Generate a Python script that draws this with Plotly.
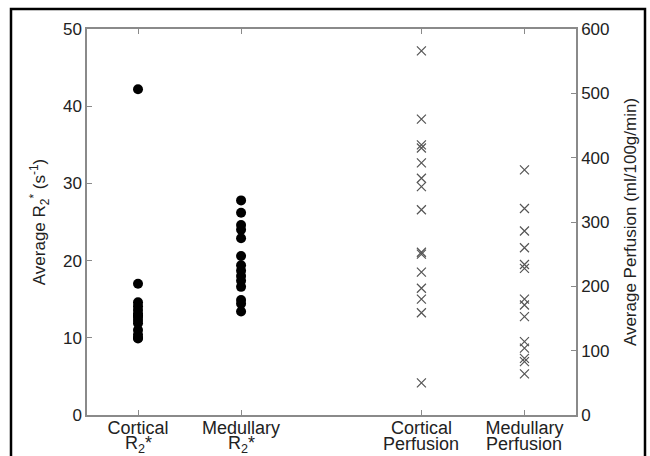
import plotly.graph_objects as go

# ---- data ----
cat_line1 = ["Cortical", "Medullary", "Cortical", "Medullary"]
cat_line2 = ["R<sub>2</sub>*", "R<sub>2</sub>*", "Perfusion", "Perfusion"]
cat_positions = [1, 2, 3.75, 4.75]

cortical_r2 = [42.2, 17.0, 14.6, 14.1, 13.6, 13.1, 12.9, 12.7, 12.3, 11.9, 11.0, 10.4, 10.0, 9.9]
medullary_r2 = [27.8, 26.2, 24.6, 24.0, 22.9, 20.6, 19.4, 18.7, 18.0, 17.4, 16.6, 14.9, 14.4, 13.4]
cortical_perf = [566, 460, 420, 415, 392, 368, 355, 319, 253, 250, 222, 197, 180, 159, 50]
medullary_perf = [381, 321, 286, 260, 234, 228, 180, 171, 153, 114, 104, 88, 83, 64]

left_ticks = [0, 10, 20, 30, 40, 50]
right_ticks = [0, 100, 200, 300, 400, 500, 600]

FONT = "Liberation Sans, Arial, sans-serif"
AX = "#8a8a8a"
TXT = "#222222"
FS = 17

fig = go.Figure()
dot = dict(symbol="circle", size=10, color="black", line=dict(width=0))
cross = dict(symbol="x-thin", size=9, color="#555555", line=dict(width=1.2, color="#555555"))

fig.add_trace(go.Scatter(x=[cat_positions[0]] * len(cortical_r2), y=cortical_r2,
                         mode="markers", marker=dot, yaxis="y", showlegend=False))
fig.add_trace(go.Scatter(x=[cat_positions[1]] * len(medullary_r2), y=medullary_r2,
                         mode="markers", marker=dot, yaxis="y", showlegend=False))
fig.add_trace(go.Scatter(x=[cat_positions[2]] * len(cortical_perf), y=cortical_perf,
                         mode="markers", marker=cross, yaxis="y2", showlegend=False))
fig.add_trace(go.Scatter(x=[cat_positions[3]] * len(medullary_perf), y=medullary_perf,
                         mode="markers", marker=cross, yaxis="y2", showlegend=False))

W, H = 650, 456
L, R, T, B = 87, 74, 29, 41
pw, ph = W - L - R, H - T - B

fig.update_layout(
    width=W, height=H,
    margin=dict(l=L, r=R, t=T, b=B, pad=0, autoexpand=False),
    paper_bgcolor="white", plot_bgcolor="white",
    font=dict(family=FONT, size=FS, color=TXT),
    xaxis=dict(range=[0.505, 5.25], tickvals=cat_positions, ticktext=cat_line1,
               automargin=False,
               showline=True, linecolor=AX, linewidth=1.5, mirror="ticks",
               ticks="inside", ticklen=5, tickcolor=AX, showgrid=False, zeroline=False,
               ticklabelstandoff=-4,
               tickfont=dict(size=18, family=FONT, color=TXT)),
    yaxis=dict(range=[0, 50], tickvals=left_ticks, automargin=False,
               showline=True, linecolor=AX, linewidth=1.5,
               ticks="inside", ticklen=5, tickcolor=AX, showgrid=False, zeroline=False,
               tickfont=dict(size=FS, family=FONT, color=TXT),
               title=dict(text="Average R<sub>2</sub><sup>*</sup> (s<sup>-1</sup>)",
                          standoff=13, font=dict(size=FS, family=FONT, color=TXT))),
    yaxis2=dict(range=[0, 600], tickvals=right_ticks, overlaying="y", side="right",
                automargin=False,
                showline=True, linecolor=AX, linewidth=1.5,
                ticks="inside", ticklen=5, tickcolor=AX, showgrid=False, zeroline=False,
                tickfont=dict(size=FS, family=FONT, color=TXT),
                title=dict(text="Average Perfusion (ml/100g/min)",
                           standoff=16, font=dict(size=FS, family=FONT, color=TXT))),
)

# second line of each category label (tighter line spacing than plotly's default)
for xp, txt in zip(cat_positions, cat_line2):
    fig.add_annotation(x=xp, xref="x", y=-(444 - (H - B)) / ph, yref="paper",
                       text=txt, showarrow=False, xanchor="center", yanchor="middle",
                       font=dict(size=18, family=FONT, color=TXT))

# black frame around the figure panel
fig.add_shape(type="rect", xref="paper", yref="paper",
              x0=(11 - L) / pw, x1=(645 - L) / pw,
              y0=-(B + 20) / ph, y1=1 + (T - 9) / ph,
              line=dict(color="black", width=2.5), fillcolor="rgba(0,0,0,0)", layer="above")

fig.write_html("out.html", config={"displayModeBar": False},
               post_script="document.body.style.margin='0px';")
